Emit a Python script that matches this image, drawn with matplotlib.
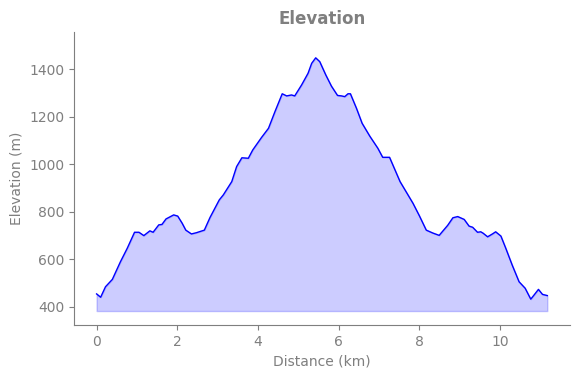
import matplotlib.pyplot as plt

# distance along the track (km) and elevation (m)
distance_km = [0.0, 0.10, 0.22, 0.39, 0.59, 0.76, 0.94, 1.05, 1.17, 1.32, 1.40,
               1.54, 1.62, 1.72, 1.91, 2.01, 2.12, 2.21, 2.35, 2.47, 2.67, 2.81,
               3.04, 3.14, 3.35, 3.47, 3.60, 3.76, 3.87, 4.09, 4.26, 4.42, 4.60,
               4.71, 4.83, 4.91, 5.08, 5.24, 5.33, 5.43, 5.53, 5.68, 5.82, 5.97,
               6.07, 6.15, 6.23, 6.29, 6.44, 6.58, 6.77, 6.97, 7.09, 7.26, 7.52,
               7.84, 8.00, 8.17, 8.33, 8.49, 8.70, 8.83, 8.95, 9.11, 9.23, 9.32,
               9.44, 9.52, 9.58, 9.69, 9.81, 9.89, 10.02, 10.14, 10.30, 10.47,
               10.62, 10.76, 10.84, 10.95, 11.05, 11.17]
elevation_m = [455, 441, 485, 516, 590, 647, 714, 714, 700, 720, 714,
               745, 747, 770, 787, 782, 752, 723, 707, 712, 723, 776,
               850, 871, 927, 990, 1027, 1025, 1060, 1113, 1151, 1221, 1296,
               1287, 1291, 1287, 1333, 1382, 1424, 1447, 1431, 1375, 1328, 1289,
               1287, 1284, 1296, 1296, 1235, 1172, 1118, 1067, 1029, 1029, 927,
               836, 783, 723, 711, 701, 743, 775, 780, 768, 740, 735,
               714, 716, 710, 695, 707, 716, 698, 647, 576, 506,
               479, 433, 450, 474, 453, 448]

grey = '#7f7f7f'
base = min(elevation_m) - 50

fig = plt.figure(figsize=(5.8, 3.78), dpi=100)
ax = fig.add_axes([0.1276, 0.14, 0.855, 0.775])

ax.fill_between(distance_km, elevation_m, base, color='blue', alpha=0.2)
ax.plot(distance_km, elevation_m, color='blue', linewidth=1)

ax.set_xlim(-0.56, 11.73)
ax.set_ylim(324, 1555)
ax.set_xticks([0, 2, 4, 6, 8, 10])
ax.set_yticks([400, 600, 800, 1000, 1200, 1400])

ax.set_title('Elevation', color=grey, fontweight='bold', fontsize=12)
ax.set_xlabel('Distance (km)', color=grey)
ax.set_ylabel('Elevation (m)', color=grey)

ax.spines['top'].set_visible(False)
ax.spines['right'].set_visible(False)
ax.spines['left'].set_color(grey)
ax.spines['bottom'].set_color(grey)
ax.tick_params(colors=grey)

fig.savefig('out.png', dpi=100)
